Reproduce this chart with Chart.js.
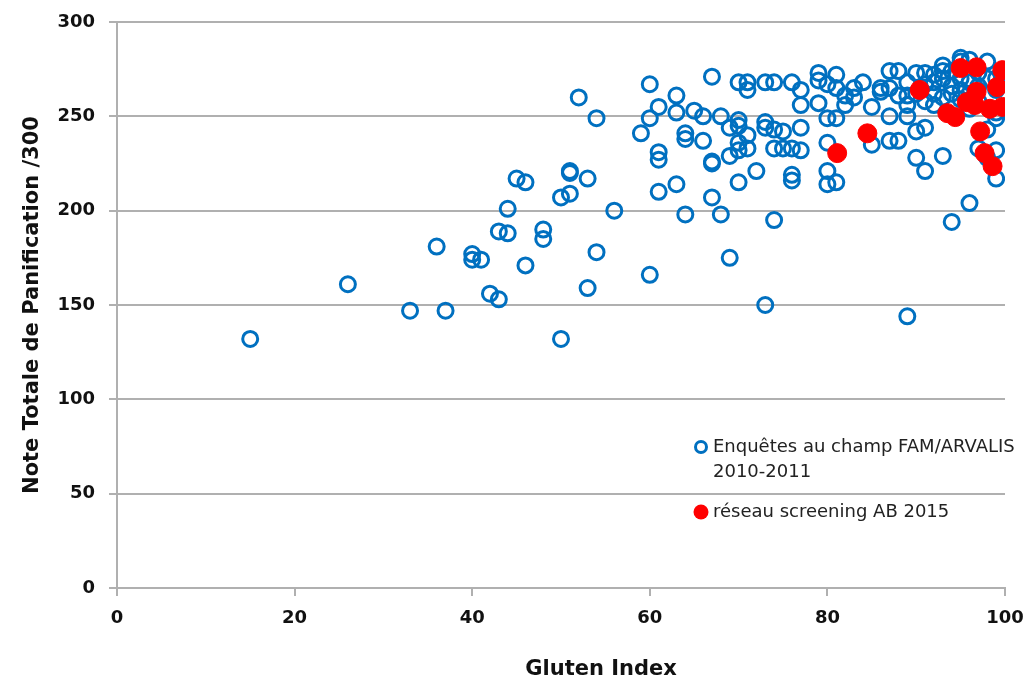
<!DOCTYPE html>
<html>
<head>
<meta charset="utf-8">
<script src="https://cdn.jsdelivr.net/npm/chart.js@4"></script>
<style>
  html, body { margin: 0; padding: 0; background: #fff; }
  #wrap { width: 1030px; height: 678px; }
</style>
</head>
<body>
<div id="wrap"><canvas id="chart" width="1030" height="678"></canvas></div>
<script>
// ---- data ----
const enqueteX = [15, 26, 33, 37, 36, 40, 40, 41, 42, 43, 43, 44, 44, 45, 46, 46, 48, 48, 50, 50,
  51, 51, 51, 52, 53, 53, 54, 54, 56, 59, 60, 60, 60, 61, 61, 61, 61, 63, 63, 63,
  64, 64, 64, 65, 66, 66, 67, 67, 67, 67, 68, 68, 69, 69, 69, 70, 70, 70, 70, 70,
  70, 71, 71, 71, 71, 72, 73, 73, 73, 73, 74, 74, 74, 74, 75, 75, 76, 76, 76, 76,
  77, 77, 77, 77, 79, 79, 79, 80, 80, 80, 80, 80, 81, 81, 81, 81, 82, 82, 83, 83,
  84, 85, 85, 86, 86, 87, 87, 87, 87, 88, 88, 88, 89, 89, 89, 89, 90, 90, 90, 91,
  91, 91, 91, 92, 92, 93, 93, 93, 93, 94, 94, 95, 95, 95, 95, 96, 96, 96, 97, 97,
  98, 98, 98, 99, 99, 99, 99, 99, 92, 94, 96, 97, 98, 93, 95, 91, 89, 99, 97, 94,
  96, 90, 92];
const enqueteY = [132, 161, 147, 147, 181, 177, 174, 174, 156, 153, 189, 188, 201, 217, 215, 171, 190, 185, 132, 207,
  221, 220, 209, 260, 159, 217, 178, 249, 200, 241, 267, 249, 166, 255, 231, 227, 210, 261, 252, 214,
  241, 238, 198, 253, 250, 237, 271, 226, 225, 207, 250, 198, 244, 229, 175, 268, 248, 245, 236, 232,
  215, 268, 264, 240, 233, 221, 268, 247, 244, 150, 268, 243, 233, 195, 233, 242, 268, 233, 219, 216,
  264, 256, 244, 232, 273, 269, 257, 267, 249, 236, 221, 214, 272, 265, 249, 215, 256, 261, 265, 260,
  268, 255, 235, 263, 265, 274, 265, 237, 250, 274, 261, 237, 144, 261, 250, 268, 228, 242, 273, 221,
  244, 273, 267, 256, 262, 229, 277, 274, 270, 194, 274, 281, 279, 264, 259, 280, 204, 254, 273, 233,
  279, 243, 228, 252, 232, 217, 249, 264, 268, 266, 268, 266, 270, 260, 270, 258, 256, 270, 258, 262,
  262, 262, 272];

const screeningX = [81.1, 84.5, 90.4, 95.0, 96.8, 99.7, 99.1, 96.8, 95.7, 96.6, 99.7, 98.3, 93.5, 94.4, 97.2, 97.7, 98.6];
const screeningY = [230.5, 241, 264, 275.6, 276, 274.5, 265.5, 263, 257.5, 256, 255, 254, 251.7, 249.6, 242, 230.5, 223.6];

const xTicks = [0, 20, 40, 60, 80, 100];
const yTicks = [0, 50, 100, 150, 200, 250, 300];

const xTitle = 'Gluten Index';
const yTitle = 'Note Totale de Panification /300';
const labelEnquete = ['Enquêtes au champ FAM/ARVALIS', '2010-2011'];
const labelScreening = 'réseau screening AB 2015';

const BLUE = '#0070C0';
const RED = '#FF0000';
const GRID = '#b0b0b0';
const FONT = '"DejaVu Sans", sans-serif';

const toPoints = (xs, ys) => xs.map((x, i) => ({ x, y: ys[i] }));

// legend sits inside the plot area, x title a bit right of centre, as in the original
const extras = {
  id: 'extras',
  afterDraw(chart) {
    const { ctx, chartArea } = chart;
    const mx = chartArea.left + 584;
    const tx = mx + 12;
    ctx.save();
    ctx.font = '18px ' + FONT;
    ctx.fillStyle = '#222';
    ctx.textBaseline = 'middle';
    ctx.textAlign = 'left';

    let y = chartArea.top + 425;
    ctx.beginPath();
    ctx.arc(mx, y, 5.5, 0, Math.PI * 2);
    ctx.lineWidth = 3;
    ctx.strokeStyle = BLUE;
    ctx.stroke();
    ctx.fillText(labelEnquete[0], tx, y);
    ctx.fillText(labelEnquete[1], tx, y + 25);

    y = chartArea.top + 490;
    ctx.beginPath();
    ctx.arc(mx, y, 7.5, 0, Math.PI * 2);
    ctx.fillStyle = RED;
    ctx.fill();
    ctx.fillStyle = '#222';
    ctx.fillText(labelScreening, tx, y);

    ctx.font = 'bold 21px ' + FONT;
    ctx.fillStyle = '#111';
    ctx.textAlign = 'center';
    ctx.textBaseline = 'alphabetic';
    ctx.fillText(xTitle, chartArea.left + 484, chart.height - 3);
    ctx.restore();
  }
};

new Chart(document.getElementById('chart'), {
  type: 'scatter',
  data: {
    datasets: [
      {
        label: labelScreening,
        data: toPoints(screeningX, screeningY),
        backgroundColor: RED, borderColor: RED,
        pointRadius: 9.5, pointHoverRadius: 9.5, borderWidth: 1,
        order: 0
      },
      {
        label: labelEnquete.join(' '),
        data: toPoints(enqueteX, enqueteY),
        backgroundColor: 'rgba(0,0,0,0)', borderColor: BLUE,
        pointRadius: 7.5, pointHoverRadius: 7.5, borderWidth: 3,
        order: 1
      }
    ]
  },
  options: {
    responsive: false,
    animation: false,
    layout: { padding: { top: 22, right: 25, left: 0, bottom: 0 } },
    plugins: { legend: { display: false }, tooltip: { enabled: false } },
    scales: {
      x: {
        type: 'linear', min: 0, max: 100,
        afterFit: s => { s.height = 90; s.paddingLeft = 0; s.paddingRight = 0; },
        afterBuildTicks: s => { s.ticks = xTicks.map(v => ({ value: v })); },
        grid: { drawOnChartArea: false, drawTicks: true, tickLength: 8, color: GRID, lineWidth: 2 },
        border: { display: true, color: GRID, width: 2 },
        ticks: { color: '#111', font: { family: FONT, size: 18, weight: 'bold' }, padding: 12, maxRotation: 0 },
        title: { display: false }
      },
      y: {
        type: 'linear', min: 0, max: 300,
        afterFit: s => { s.width = 117; s.paddingTop = 0; s.paddingBottom = 0; },
        afterBuildTicks: s => { s.ticks = yTicks.map(v => ({ value: v })); },
        grid: { drawTicks: true, tickLength: 8, color: GRID, lineWidth: 2 },
        border: { display: true, color: GRID, width: 2 },
        ticks: { color: '#111', font: { family: FONT, size: 18, weight: 'bold' }, padding: 14 },
        title: { display: true, text: yTitle, color: '#111',
          font: { family: FONT, size: 21, weight: 'bold' }, padding: { top: 20, bottom: 0 } }
      }
    }
  },
  plugins: [extras]
});
</script>
</body>
</html>
